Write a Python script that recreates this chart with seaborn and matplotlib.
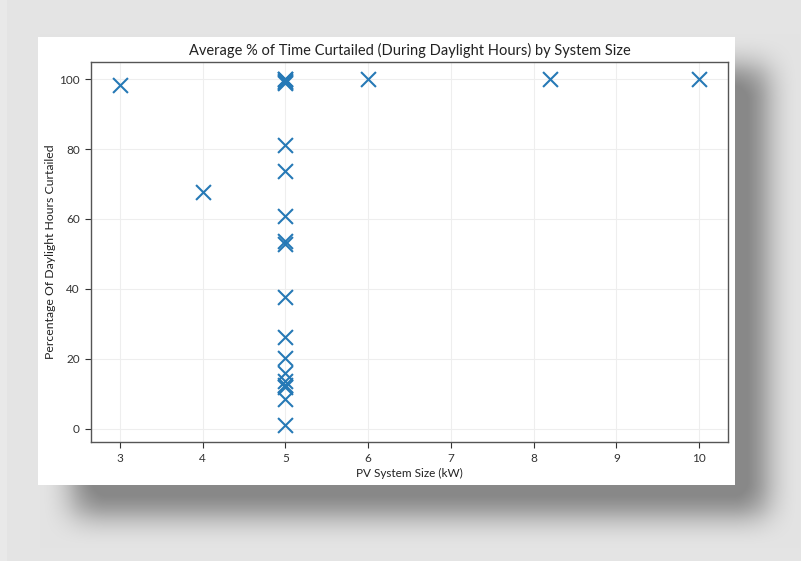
import numpy as np
import pandas as pd
import matplotlib
matplotlib.use('Agg')
import matplotlib.pyplot as plt
import seaborn as sns
from matplotlib.patches import Rectangle

# PV system size (kW) and % of daylight hours curtailed
system_size = [3, 4, 5, 5, 5, 5, 5, 5, 5, 5, 5, 5, 5, 5, 5, 5, 5, 5, 5, 5, 5, 6, 8.2, 10]
pct_curtailed = [98.3, 67.8, 100, 99.6, 99.1, 100, 98.8, 81.2, 73.8, 60.9, 53.6, 52.8,
                 37.8, 26.3, 20.2, 15.9, 13.6, 12.5, 11.8, 8.5, 1.1, 100, 100, 100]

df = pd.DataFrame({'size': system_size, 'pct': pct_curtailed})

sns.set_style('whitegrid')
plt.rcParams['font.family'] = ['Lato', 'DejaVu Sans']

W, H = 801, 561
fig = plt.figure(figsize=(W / 100, H / 100), dpi=100)
fig.patch.set_facecolor('#e4e4e4')

# soft drop shadow behind the white card (decoration only)
mask = np.zeros((H, W))
mask[66:514, 72:766] = 1.0
k = 34
kern = np.ones(k) / k
for _ in range(2):
    mask = np.apply_along_axis(lambda r: np.convolve(r, kern, mode='same'), 1, mask)
    mask = np.apply_along_axis(lambda c: np.convolve(c, kern, mode='same'), 0, mask)
mask = np.clip(mask * 1.1, 0, 1)
bg = np.array([0xe4, 0xe4, 0xe4]) / 255
dark = np.array([0x88, 0x88, 0x88]) / 255
img = bg[None, None, :] * (1 - mask[..., None]) + dark[None, None, :] * mask[..., None]
img[:, :7, :] = np.array([0xe9, 0xe9, 0xe9]) / 255
fig.figimage(img, xo=0, yo=0, origin='upper', zorder=-2)

# white card
card = Rectangle((38 / W, (H - 485) / H), 697 / W, 448 / H, transform=fig.transFigure,
                 facecolor='white', edgecolor='none', zorder=-1)
fig.add_artist(card)

ax = fig.add_axes([91 / W, (H - 442) / H, (728 - 91) / W, (442 - 62) / H])
ax.set_facecolor('white')

sns.scatterplot(data=df, x='size', y='pct', marker='x', s=115, color='#2679b6',
                linewidth=1.5, ax=ax)

ax.set_title('Average % of Time Curtailed (During Daylight Hours) by System Size',
             fontsize=10.5, color='#222222', pad=5)
ax.set_xlabel('PV System Size (kW)', fontsize=8.5, color='#222222', labelpad=3)
ax.set_ylabel('Percentage Of Daylight Hours Curtailed', fontsize=8.8, color='#222222', labelpad=2)
ax.set_xticks(range(3, 11))
ax.set_yticks(range(0, 101, 20))
ax.tick_params(axis='both', labelsize=8.5, colors='#333333', length=4, width=0.8,
               direction='out', bottom=True, left=True, pad=4)
ax.grid(True, color='#eeeeee', linewidth=0.8)
for sp in ax.spines.values():
    sp.set_visible(True)
    sp.set_color('#555555')
    sp.set_linewidth(1.0)

fig.savefig('out.png', dpi=100, facecolor=fig.get_facecolor())
